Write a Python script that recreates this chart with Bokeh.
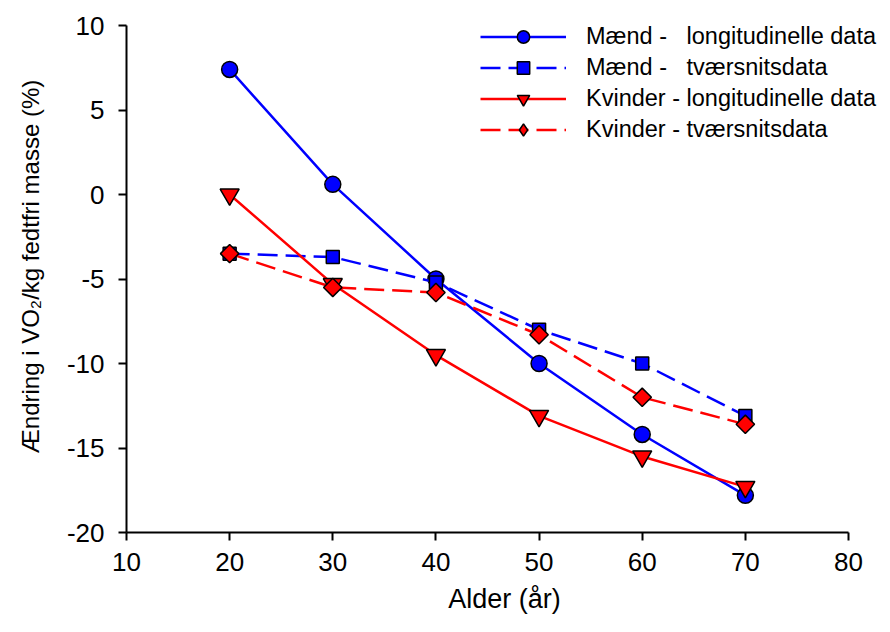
import math
from bokeh.plotting import figure
from bokeh.models import Range1d, FixedTicker, Legend, LegendItem
from bokeh.embed import file_html
from bokeh.resources import INLINE

# Data
ages = [20, 30, 40, 50, 60, 70]
maend_long = [7.4, 0.6, -5.0, -10.0, -14.2, -17.8]
maend_tvaer = [-3.5, -3.7, -5.2, -8.0, -10.0, -13.1]
kvinder_long = [0.0, -5.3, -9.5, -13.1, -15.5, -17.3]
kvinder_tvaer = [-3.5, -5.5, -5.8, -8.3, -12.0, -13.6]

x_ticks = [10, 20, 30, 40, 50, 60, 70, 80]
y_ticks = [-20, -15, -10, -5, 0, 5, 10]
x_bounds = (10, 80)
y_bounds = (-20, 10)

labels = [
    "Mænd -\u00a0\u00a0 longitudinelle data",
    "Mænd -\u00a0\u00a0 tværsnitsdata",
    "Kvinder - longitudinelle data",
    "Kvinder - tværsnitsdata",
]

FONT = "Liberation Sans"
BLUE = "#0000FF"
RED = "#FF0000"

W, H = 882, 616
LEFT, TOP, BOTTOM = 126, 0, 84
# frame pixel extent of the visible axes in the reference: x 126..848, y 25..532
px_per_x = (848 - 126) / (x_bounds[1] - x_bounds[0])
px_per_y = (532 - 25) / (y_bounds[1] - y_bounds[0])
x_end = x_bounds[1] + (W - 848) / px_per_x
y_end = y_bounds[1] + (25 - TOP) / px_per_y

p = figure(width=W, height=H, output_backend="svg", toolbar_location=None,
           x_range=Range1d(x_bounds[0], x_end), y_range=Range1d(y_bounds[0], y_end),
           min_border_left=LEFT, min_border_top=TOP, min_border_right=0,
           min_border_bottom=BOTTOM)
p.outline_line_color = None
p.xgrid.visible = False
p.ygrid.visible = False
p.background_fill_color = "white"

for ax in (p.xaxis[0], p.yaxis[0]):
    ax.axis_line_width = 2
    ax.axis_line_color = "black"
    ax.major_tick_line_width = 2
    ax.major_tick_line_color = "black"
    ax.major_tick_out = 8
    ax.major_tick_in = 0
    ax.minor_tick_out = 0
    ax.minor_tick_in = 0
    ax.major_label_text_font = FONT
    ax.major_label_text_font_size = "26px"
    ax.major_label_text_color = "black"
    ax.axis_label_text_font = FONT
    ax.axis_label_text_font_style = "normal"
    ax.axis_label_text_color = "black"

p.xaxis.bounds = x_bounds
p.yaxis.bounds = y_bounds
p.xaxis.ticker = FixedTicker(ticks=x_ticks)
p.yaxis.ticker = FixedTicker(ticks=y_ticks)
p.xaxis.major_label_overrides = {t: str(t) for t in x_ticks}
p.yaxis.major_label_overrides = {t: str(t) for t in y_ticks}
p.xaxis.major_label_standoff = 12
p.yaxis.major_label_standoff = 14
p.xaxis.axis_label = "Alder (år)"
p.yaxis.axis_label = "Ændring i VO\u2082/kg fedtfri masse (%)"
p.xaxis.axis_label_text_font_size = "27px"
p.yaxis.axis_label_text_font_size = "24px"
p.xaxis.axis_label_standoff = 10
p.yaxis.axis_label_standoff = 20

LW = 2.5
DASH = "20 8"
r1l = p.line(ages, maend_long, line_color=BLUE, line_width=LW)
r1m = p.scatter(ages, maend_long, marker="circle", size=16, fill_color=BLUE,
                line_color="black", line_width=1.5)
r2l = p.line(ages, maend_tvaer, line_color=BLUE, line_width=LW, line_dash=DASH)
r2m = p.scatter(ages, maend_tvaer, marker="square", size=13, fill_color=BLUE,
                line_color="black", line_width=1.5)
r3l = p.line(ages, kvinder_long, line_color=RED, line_width=LW)
r3m = p.scatter(ages, kvinder_long, marker="inverted_triangle", size=19, fill_color=RED,
                line_color="black", line_width=1.5)
r4l = p.line(ages, kvinder_tvaer, line_color=RED, line_width=LW, line_dash=DASH)
r4m = p.scatter(ages, kvinder_tvaer, marker="square", size=13, angle=math.pi / 4,
                fill_color=RED, line_color="black", line_width=1.5)
# hidden twin used only for the legend's diamond glyph
r4leg = p.scatter(ages, kvinder_tvaer, marker="diamond", fill_color=RED,
                  line_color="black", line_width=1.5, visible=False)

legend = Legend(items=[
    LegendItem(label=labels[0], renderers=[r1l, r1m]),
    LegendItem(label=labels[1], renderers=[r2l, r2m]),
    LegendItem(label=labels[2], renderers=[r3l, r3m]),
    LegendItem(label=labels[3], renderers=[r4l, r4leg]),
], location=(354, 387))
legend.background_fill_alpha = 0
legend.border_line_color = None
legend.inactive_fill_alpha = 0
legend.padding = 0
legend.margin = 0
legend.spacing = 0
legend.glyph_width = 86
legend.glyph_height = 31
legend.label_height = 22
legend.label_standoff = 20
legend.label_text_font = FONT
legend.label_text_font_size = "23.5px"
legend.label_text_color = "black"
p.add_layout(legend, "center")

open("out.html", "w").write(file_html(p, INLINE))
